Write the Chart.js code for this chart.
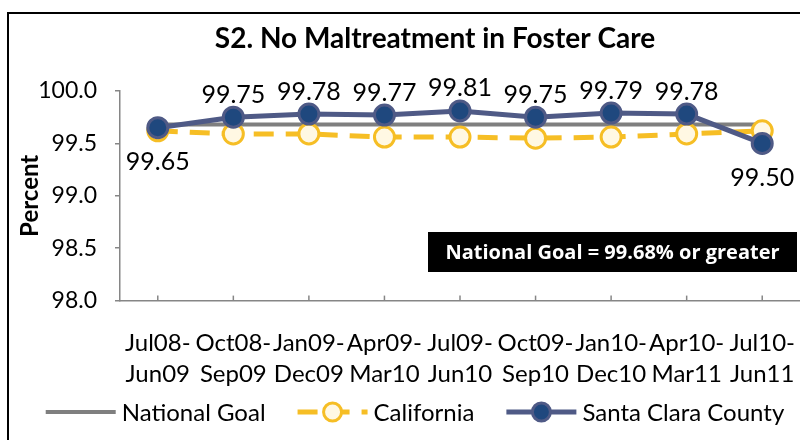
<!DOCTYPE html>
<html>
<head>
<meta charset="utf-8">
<script src="https://cdn.jsdelivr.net/npm/chart.js@4.4.0/dist/chart.umd.min.js"></script>
<style>
  html, body { margin: 0; padding: 0; background: #fff; }
  #wrap { width: 800px; height: 440px; }
</style>
</head>
<body>
<div id="wrap"><canvas id="myChart" width="800" height="440"></canvas></div>
<script>
// reporting periods (two-line labels)
var periods = [
  ['Jul08-', 'Jun09'], ['Oct08-', 'Sep09'], ['Jan09-', 'Dec09'],
  ['Apr09-', 'Mar10'], ['Jul09-', 'Jun10'], ['Oct09-', 'Sep10'],
  ['Jan10-', 'Dec10'], ['Apr10-', 'Mar11'], ['Jul10-', 'Jun11']
];
var nationalGoal = [99.68, 99.68, 99.68, 99.68, 99.68, 99.68, 99.68, 99.68, 99.68];
var california = [99.62, 99.59, 99.59, 99.56, 99.56, 99.55, 99.56, 99.59, 99.62];
var santaClara = [99.65, 99.75, 99.78, 99.77, 99.81, 99.75, 99.79, 99.78, 99.50];
var yMin = 98.0, yMax = 100.0, yStep = 0.5;
var chartTitle = 'S2. No Maltreatment in Foster Care';
var goalNote = 'National Goal = 99.68% or greater';

var FONT = 'Lato, "Noto Sans", sans-serif';

var extras = {
  id: 'extras',
  beforeDraw: function(chart) {
    var c = chart.ctx;
    c.save();
    c.fillStyle = '#fff';
    c.fillRect(0, 0, chart.width, chart.height);
    // outer frame (cut off at right/bottom like the original)
    c.strokeStyle = '#000';
    c.lineWidth = 2;
    c.beginPath();
    c.moveTo(8, chart.height);
    c.lineTo(8, 13);
    c.lineTo(chart.width, 13);
    c.stroke();
    // title
    c.fillStyle = '#000';
    c.font = 'bold 28px ' + FONT;
    c.textAlign = 'center';
    c.textBaseline = 'middle';
    c.fillText(chartTitle, 435, 39);
    c.restore();
  },
  afterDatasetsDraw: function(chart) {
    var c = chart.ctx;
    var xs = chart.scales.x, area = chart.chartArea;
    c.save();
    // small tick marks on the category axis
    c.strokeStyle = '#868686';
    c.lineWidth = 1.5;
    for (var i = 0; i < periods.length; i++) {
      var px = xs.getPixelForValue(i);
      c.beginPath();
      c.moveTo(px, area.bottom);
      c.lineTo(px, area.bottom - 5);
      c.stroke();
    }
    // value labels for Santa Clara County
    var meta = chart.getDatasetMeta(0);
    c.fillStyle = '#000';
    c.font = '25px ' + FONT;
    c.textAlign = 'center';
    meta.data.forEach(function(pt, i) {
      var below = (i === 0 || i === meta.data.length - 1);
      if (below) {
        c.textBaseline = 'top';
        c.fillText(santaClara[i].toFixed(2), pt.x, pt.y + 22);
      } else {
        c.textBaseline = 'bottom';
        c.fillText(santaClara[i].toFixed(2), pt.x, pt.y - 10);
      }
    });
    c.restore();
  },
  afterDraw: function(chart) {
    var c = chart.ctx, area = chart.chartArea;
    c.save();
    // national goal box
    var bx = area.right - 372, by = area.top + 141, bw = 369, bh = 40;
    c.fillStyle = '#000';
    c.fillRect(bx, by, bw, bh);
    c.fillStyle = '#fff';
    c.font = 'bold 20px "Open Sans", sans-serif';
    c.textAlign = 'center';
    c.textBaseline = 'middle';
    c.fillText(goalNote, bx + bw / 2, by + bh / 2 + 1);

    // legend
    var ds = chart.data.datasets;
    var items = [ds[2], ds[1], ds[0]];
    c.font = '24px ' + FONT;
    var lineLen = 70, gapText = 6, gapItem = 32;
    var total = 0;
    items.forEach(function(d, i) {
      total += lineLen + gapText + c.measureText(d.label).width;
      if (i < items.length - 1) total += gapItem;
    });
    var x = 415 - total / 2, y = 412;
    items.forEach(function(d) {
      c.strokeStyle = d.borderColor;
      c.lineWidth = d.borderWidth;
      c.setLineDash(d.borderDash || []);
      c.beginPath();
      c.moveTo(x, y);
      c.lineTo(x + lineLen, y);
      c.stroke();
      c.setLineDash([]);
      if (d.pointRadius > 0) {
        c.beginPath();
        c.arc(x + lineLen / 2, y, 9, 0, Math.PI * 2);
        c.fillStyle = d.pointBackgroundColor;
        c.fill();
        c.lineWidth = d.pointBorderWidth;
        c.strokeStyle = d.pointBorderColor;
        c.stroke();
      }
      c.fillStyle = '#000';
      c.textAlign = 'left';
      c.textBaseline = 'middle';
      c.fillText(d.label, x + lineLen + gapText, y + 1);
      x += lineLen + gapText + c.measureText(d.label).width + gapItem;
    });
    c.restore();
  }
};

var ctx = document.getElementById('myChart').getContext('2d');
var myChart = new Chart(ctx, {
  type: 'line',
  data: {
    labels: periods,
    datasets: [{
      label: 'Santa Clara County',
      data: santaClara,
      order: 0,
      borderColor: '#4F5A86',
      borderWidth: 5,
      pointRadius: 10,
      pointBackgroundColor: '#1F487E',
      pointBorderColor: '#4F5A86',
      pointBorderWidth: 3,
      tension: 0
    }, {
      label: 'California',
      data: california,
      order: 1,
      borderColor: '#F6BE25',
      borderWidth: 5,
      borderDash: [20, 12],
      pointRadius: 10,
      pointBackgroundColor: '#FFF8E3',
      pointBorderColor: '#F6BE25',
      pointBorderWidth: 3,
      tension: 0
    }, {
      label: 'National Goal',
      data: nationalGoal,
      order: 2,
      borderColor: '#7F7F7F',
      borderWidth: 4,
      pointRadius: 0,
      tension: 0
    }]
  },
  options: {
    responsive: false,
    animation: false,
    layout: { autoPadding: false, padding: { left: 0, right: 0, top: 91, bottom: 23 } },
    plugins: {
      legend: { display: false },
      tooltip: { enabled: false },
      title: { display: false }
    },
    scales: {
      x: {
        offset: true,
        afterFit: function(scale) { scale.paddingRight = 0; scale.paddingLeft = 0; },
        grid: { display: true, drawOnChartArea: false, drawTicks: false, color: '#868686' },
        border: { display: true, color: '#868686', width: 1.5 },
        ticks: {
          color: '#000',
          font: { family: FONT, size: 24, lineHeight: 1.3 },
          padding: 27,
          maxRotation: 0,
          autoSkip: false
        }
      },
      y: {
        min: yMin,
        max: yMax,
        afterFit: function(scale) { scale.width = 120; },
        grid: { drawOnChartArea: false, drawTicks: true, tickLength: 5, color: '#868686', lineWidth: 1.5 },
        border: { display: true, color: '#868686', width: 1.5 },
        ticks: {
          stepSize: yStep,
          color: '#000',
          font: { family: FONT, size: 23 },
          padding: 18,
          callback: function(v) { return v.toFixed(1); }
        },
        title: {
          display: true,
          text: 'Percent',
          color: '#000',
          font: { family: FONT, size: 24, weight: 'bold' },
          padding: { top: 16, bottom: 0 }
        }
      }
    }
  },
  plugins: [extras]
});
</script>
</body>
</html>
